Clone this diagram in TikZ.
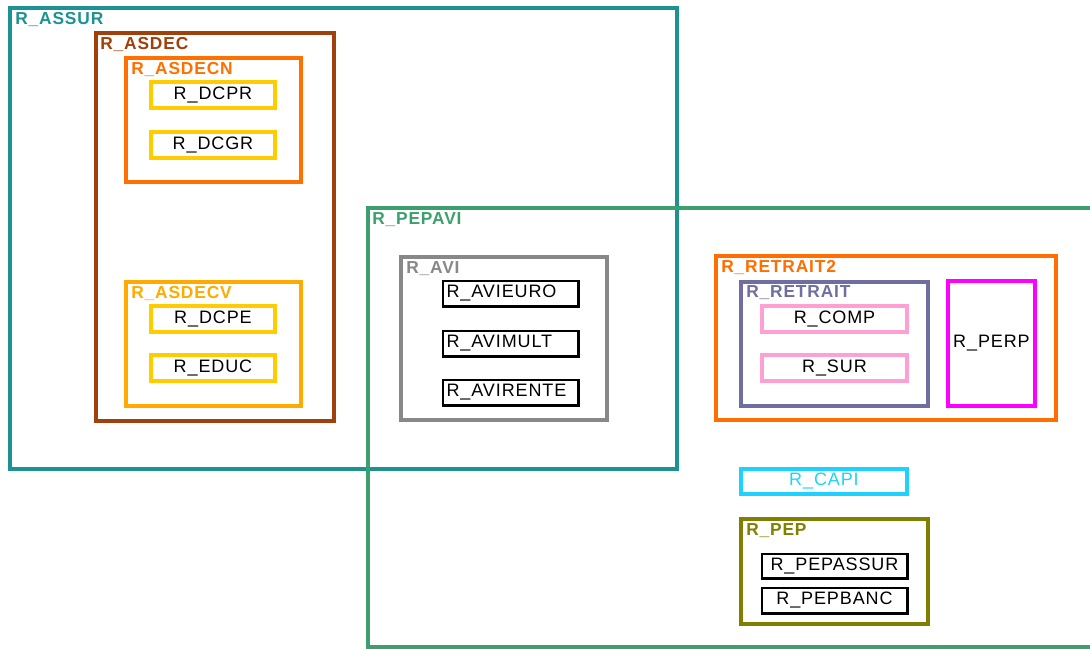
\documentclass[tikz,border=0pt]{standalone}
\usepackage{fontspec}
\setmainfont{Liberation Sans}
\usetikzlibrary{fit}
\definecolor{cassur}{RGB}{30,145,145}
\definecolor{casdec}{RGB}{160,64,10}
\definecolor{casdecn}{RGB}{255,112,0}
\definecolor{cyel}{RGB}{255,204,0}
\definecolor{casdecv}{RGB}{255,170,0}
\definecolor{cpepavi}{RGB}{60,160,110}
\definecolor{cavi}{RGB}{136,136,136}
\definecolor{cretrait2}{RGB}{255,110,0}
\definecolor{cretrait}{RGB}{110,110,160}
\definecolor{cpink}{RGB}{255,160,210}
\definecolor{cperp}{RGB}{255,0,255}
\definecolor{ccapi}{RGB}{30,210,255}
\definecolor{cpep}{RGB}{128,128,0}
\begin{document}
\begin{tikzpicture}[x=0.75pt,y=-0.75pt,
  frame/.style={draw=#1, line width=2.6pt, inner sep=0pt},
  leaf/.style={draw=#1, line width=2.3pt, inner sep=0pt},
  blk/.style={draw=black, line width=1pt, inner sep=0pt},
  shadowedge/.style={draw=black, line width=1.6pt},
  lbl/.style={text=#1, font=\fontsize{13}{14}\selectfont\bfseries\addfontfeature{LetterSpace=5}, anchor=west, inner sep=0pt},
  txt/.style={text=black, font=\fontsize{13.5}{14}\selectfont\addfontfeature{LetterSpace=5}, inner sep=0pt}]
\useasboundingbox (0,0) rectangle (1090,649);
\fill[white] (0,0) rectangle (1090,649);
% R_ASSUR
\node[frame=cassur, fit={(10,8)(677,469)}] (assur) {};
\node[lbl=cassur] (assurl) at (15,20) {R\_ASSUR};
% R_ASDEC
\node[frame=casdec, line width=3.2pt, fit={(96,33)(334,421)}] (asdec) {};
\node[lbl=casdec] (asdecl) at (100,45) {R\_ASDEC};
% R_ASDECN
\node[frame=casdecn, fit={(126,58)(301,182)}] (asdecn) {};
\node[lbl=casdecn] (asdecnl) at (131,70) {R\_ASDECN};
\node[leaf=cyel, fit={(151,82)(275,108)}] (dcpr) {};
\node[txt] at (dcpr.center) {R\_DCPR};
\node[leaf=cyel, fit={(151,132)(275,158)}] (dcgr) {};
\node[txt] at (dcgr.center) {R\_DCGR};
% R_ASDECV
\node[frame=casdecv, fit={(126,282)(301,406)}] (asdecv) {};
\node[lbl=casdecv] (asdecvl) at (131,294) {R\_ASDECV};
\node[leaf=cyel, fit={(151,306)(275,332)}] (dcpe) {};
\node[txt] at (dcpe.center) {R\_DCPE};
\node[leaf=cyel, fit={(151,355)(275,381)}] (educ) {};
\node[txt] at (educ.center) {R\_EDUC};
% R_PEPAVI
\node[frame=cpepavi, fit={(368,208)(1100,647)}] (pepavi) {};
\node[lbl=cpepavi] (pepavil) at (372,220) {R\_PEPAVI};
% R_AVI
\node[frame=cavi, fit={(401,257)(607,420)}] (avi) {};
\node[lbl=cavi] (avil) at (406,269) {R\_AVI};
\node[blk, fit={(443,281)(578,306)}] (avieuro) {};
\node[txt, anchor=west] at ([xshift=3pt]avieuro.west) {R\_AVIEURO};
\node[blk, fit={(443,331)(578,356)}] (avimult) {};
\node[txt, anchor=west] at ([xshift=3pt]avimult.west) {R\_AVIMULT};
\node[blk, fit={(443,380)(578,405)}] (avirente) {};
\node[txt, anchor=west] at ([xshift=3pt]avirente.west) {R\_AVIRENTE};
% R_RETRAIT2
\node[frame=cretrait2, fit={(716,256)(1056,420)}] (retrait2) {};
\node[lbl=cretrait2] (retrait2l) at (721,268) {R\_RETRAIT2};
\node[frame=cretrait, fit={(741,282)(928,406)}] (retrait) {};
\node[lbl=cretrait] (retraitl) at (746,293) {R\_RETRAIT};
\node[leaf=cpink, fit={(762,306)(907,332)}] (comp) {};
\node[txt] at (comp.center) {R\_COMP};
\node[leaf=cpink, fit={(762,355)(907,381)}] (sur) {};
\node[txt] at (sur.center) {R\_SUR};
\node[frame=cperp, fit={(948,281)(1035,406)}] (perp) {};
\node[txt] at (perp.center) {R\_PERP};
% R_CAPI
\node[leaf=ccapi, fit={(741,469)(907,494)}] (capi) {};
\node[txt, text=ccapi] at (capi.center) {R\_CAPI};
% R_PEP
\node[frame=cpep, fit={(741,519)(928,624)}] (pep) {};
\node[lbl=cpep] (pepl) at (746,531) {R\_PEP};
\node[blk, fit={(762,554)(907,578)}] (pepassur) {};
\node[txt] at (pepassur.center) {R\_PEPASSUR};
\node[blk, fit={(762,588)(907,613)}] (pepbanc) {};
\node[txt] at (pepbanc.center) {R\_PEPBANC};
% shadowed right/bottom edges of the black boxes
\foreach \n in {avieuro,avimult,avirente,pepassur,pepbanc}{
  \draw[shadowedge] ([xshift=0.4pt]\n.north east) -- ([xshift=0.4pt,yshift=-0.4pt]\n.south east) -- ([yshift=-0.4pt]\n.south west);
}
\end{tikzpicture}
\end{document}
